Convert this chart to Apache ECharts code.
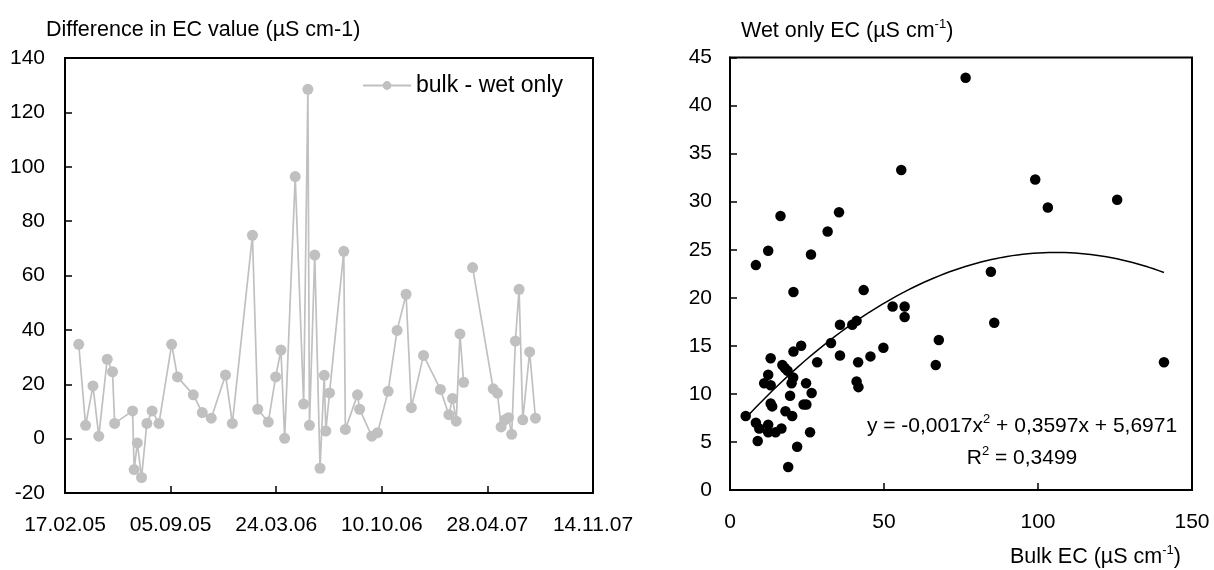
<!DOCTYPE html>
<html>
<head>
<meta charset="utf-8">
<script src="https://cdn.jsdelivr.net/npm/echarts@6/dist/echarts.min.js"></script>
<style>
html,body{margin:0;padding:0;background:#fff;}
#chart{width:1214px;height:570px;}
</style>
</head>
<body>
<div id="chart"></div>
<script>
// ---- Left panel: difference bulk - wet only ----
const diffDates = ['2005-03-15','2005-03-28','2005-04-11','2005-04-22','2005-05-08','2005-05-18','2005-05-22','2005-06-25','2005-06-28','2005-07-04','2005-07-12','2005-07-22','2005-08-01','2005-08-14','2005-09-07','2005-09-18','2005-10-18','2005-11-04','2005-11-21','2005-12-18','2005-12-31',
'2006-02-07','2006-02-17','2006-03-09','2006-03-23','2006-04-02','2006-04-09','2006-04-29','2006-05-15','2006-05-23','2006-05-26','2006-06-05','2006-06-15','2006-06-23','2006-06-26','2006-07-03','2006-07-30','2006-08-02','2006-08-25','2006-08-29','2006-09-21','2006-10-02','2006-10-22','2006-11-08','2006-11-25','2006-12-05','2006-12-28',
'2007-01-29','2007-02-14','2007-02-21','2007-02-28','2007-03-07','2007-03-14','2007-03-22','2007-03-31','2007-05-09','2007-05-17','2007-05-24','2007-05-31','2007-06-07','2007-06-13','2007-06-20','2007-06-27','2007-07-04','2007-07-17','2007-07-28'];
const diffValues = [34.7,4.9,19.4,0.9,29.2,24.6,5.6,10.2,-11.4,-1.6,-14.3,5.6,10.2,5.6,34.7,22.7,16.1,9.6,7.5,23.4,5.6,
74.8,10.8,6.1,22.7,32.6,0.1,96.4,12.7,128.5,4.9,67.5,-10.9,23.3,2.8,16.8,68.9,3.4,16.1,10.8,0.9,2.2,17.4,39.8,53.1,11.4,30.6,
18.1,8.8,14.8,6.4,38.5,20.7,null,62.9,18.3,16.7,4.3,6.9,7.7,1.6,35.9,54.9,6.9,31.9,7.5];
const diffSeriesName = 'bulk - wet only';
// date axis ticks (Excel serial days), 17.02.05 .. 14.11.07 every 200 days
const dateAxisMin = 38400, dateAxisMax = 39400, dateAxisStep = 200;
const diffAxis = {min: -20, max: 140, step: 20};

// ---- Right panel: wet only vs bulk EC ----
const bulkEC = [5.1,8.4,12.4,16.4,20.6,26.3,31.7,35.4,8.4,9.0,9.5,12.4,12.4,14.8,16.7,18.9,21.8,26.0,13.2,12.4,11.1,13.2,13.2,13.7,17.0,17.8,18.7,20.5,20.0,19.5,18.0,20.2,20.6,23.1,24.7,26.5,23.9,24.8,28.3,32.8,35.7,35.7,39.7,41.1,41.6,41.1,41.7,43.4,45.6,49.8,52.8,56.7,56.7,55.6,76.5,99.1,103.2,125.7,84.7,85.8,67.8,66.8,140.9];
const wetEC  = [7.7,23.4,24.9,28.5,20.6,24.5,26.9,28.9,7.0,5.1,6.4,6.8,6.0,6.0,6.4,2.4,4.5,6.0,13.7,12.0,11.1,10.9,9.0,8.7,13.0,12.7,12.4,11.7,11.1,9.8,8.2,7.7,14.4,15.0,11.1,10.1,8.9,8.9,13.3,15.3,17.2,14.0,17.2,17.6,13.3,11.3,10.7,20.8,13.9,14.8,19.1,19.1,18.0,33.3,42.9,32.3,29.4,30.2,22.7,17.4,15.6,13.0,13.3];
const trendCoef = [-0.0017, 0.3597, 5.6971]; // y = a x^2 + b x + c (Excel polynomial trendline)
const trendLabel = 'y = -0,0017x{sup|2} + 0,3597x + 5,6971';
const r2Label = 'R{sup|2} = 0,3499';

const FONT = "'Liberation Sans', Arial, sans-serif";
const FS = 21;
const TFS = 21.5;

function dateToSerial(s) {
  const p = s.split('-').map(Number);
  return 25569 + Date.UTC(p[0], p[1] - 1, p[2]) / 86400000;
}
function serialToLabel(v) {
  const d = new Date((v - 25569) * 86400000);
  const dd = String(d.getUTCDate()).padStart(2, '0');
  const mm = String(d.getUTCMonth() + 1).padStart(2, '0');
  const yy = String(d.getUTCFullYear() % 100).padStart(2, '0');
  return dd + '.' + mm + '.' + yy;
}

const lineData = diffDates.map((d, i) => [dateToSerial(d), diffValues[i] === null ? '-' : diffValues[i]]);
const scatterData = bulkEC.map((x, i) => [x, wetEC[i]]);
const xMinT = Math.min(...bulkEC), xMaxT = Math.max(...bulkEC);
const trendData = [];
for (let i = 0; i <= 80; i++) {
  const x = xMinT + (xMaxT - xMinT) * i / 80;
  trendData.push([x, trendCoef[0] * x * x + trendCoef[1] * x + trendCoef[2]]);
}

const axisLine = {show: true, onZero: false, lineStyle: {color: '#000', width: 2}};
const axisTick = {show: true, inside: true, length: 7, lineStyle: {color: '#000', width: 1.5}};
const labelStyle = {color: '#000', fontSize: FS, fontFamily: FONT};
const sup = {fontSize: 13, fontFamily: FONT, fontWeight: 'normal', color: '#000', verticalAlign: 'top', lineHeight: 14};
const base = {fontSize: FS, fontFamily: FONT, fontWeight: 'normal', color: '#000', lineHeight: 26};
const baseT = Object.assign({}, base, {fontSize: TFS});

function richTitle(str) {
  return '{a|' + str.replace(/\{sup\|([^}]*)\}/g, '}{sup|$1}{a|') + '}';
}

const chart = echarts.init(document.getElementById('chart'), null, {renderer: 'canvas'});
chart.setOption({
  backgroundColor: '#fff',
  animation: false,
  title: [
    {text: 'Difference in EC value (µS cm-1)', left: 46, top: 17, padding: 0,
     textStyle: {fontSize: TFS, lineHeight: 26, fontWeight: 'normal', fontFamily: FONT, color: '#000'}},
    {text: richTitle('Wet only EC (µS cm{sup|-1})'), left: 741, top: 18, padding: 0,
     textStyle: {fontWeight: 'normal', rich: {a: baseT, sup: sup}}},
    {text: richTitle('Bulk EC (µS cm{sup|-1})'), left: 1010, top: 544, padding: 0,
     textStyle: {fontWeight: 'normal', rich: {a: baseT, sup: sup}}},
    {text: richTitle(trendLabel), left: 1022, textAlign: 'center', top: 413, padding: 0,
     textStyle: {fontWeight: 'normal', rich: {a: base, sup: sup}}},
    {text: richTitle(r2Label), left: 1022, textAlign: 'center', top: 445, padding: 0,
     textStyle: {fontWeight: 'normal', rich: {a: base, sup: sup}}}
  ],
  legend: {
    data: [diffSeriesName], left: 357, top: 69, itemWidth: 48, itemHeight: 11, itemGap: 5,
    textStyle: {color: '#000', fontSize: 23, fontFamily: FONT}
  },
  grid: [
    {left: 65, top: 58, width: 528, height: 435, show: true, borderColor: '#000', borderWidth: 2, containLabel: false},
    {left: 730, top: 57.5, width: 462, height: 432.5, show: true, borderColor: '#000', borderWidth: 2, containLabel: false}
  ],
  xAxis: [
    {type: 'value', gridIndex: 0, min: dateAxisMin, max: dateAxisMax, interval: dateAxisStep,
     axisLine: axisLine, axisTick: axisTick, splitLine: {show: false},
     axisLabel: Object.assign({margin: 22, formatter: serialToLabel}, labelStyle)},
    {type: 'value', gridIndex: 1, min: 0, max: 150, interval: 50,
     axisLine: axisLine, axisTick: axisTick, splitLine: {show: false},
     axisLabel: Object.assign({margin: 22}, labelStyle)}
  ],
  yAxis: [
    {type: 'value', gridIndex: 0, min: diffAxis.min, max: diffAxis.max, interval: diffAxis.step,
     axisLine: axisLine, axisTick: axisTick, splitLine: {show: false},
     axisLabel: Object.assign({margin: 20}, labelStyle)},
    {type: 'value', gridIndex: 1, min: 0, max: 45, interval: 5,
     axisLine: axisLine, axisTick: axisTick, splitLine: {show: false},
     axisLabel: Object.assign({margin: 18}, labelStyle)}
  ],
  series: [
    {name: diffSeriesName, type: 'line', xAxisIndex: 0, yAxisIndex: 0, data: lineData,
     connectNulls: false, symbol: 'circle', symbolSize: 11, showAllSymbol: true,
     itemStyle: {color: '#c0c0c0', opacity: 1}, lineStyle: {color: '#c0c0c0', width: 1.7}},
    {name: 'scatter', type: 'scatter', xAxisIndex: 1, yAxisIndex: 1, data: scatterData,
     symbol: 'circle', symbolSize: 10.5, itemStyle: {color: '#000', opacity: 1}},
    {name: 'trend', type: 'line', xAxisIndex: 1, yAxisIndex: 1, data: trendData,
     symbol: 'none', smooth: false, lineStyle: {color: '#000', width: 1.5}}
  ]
});
</script>
</body>
</html>
